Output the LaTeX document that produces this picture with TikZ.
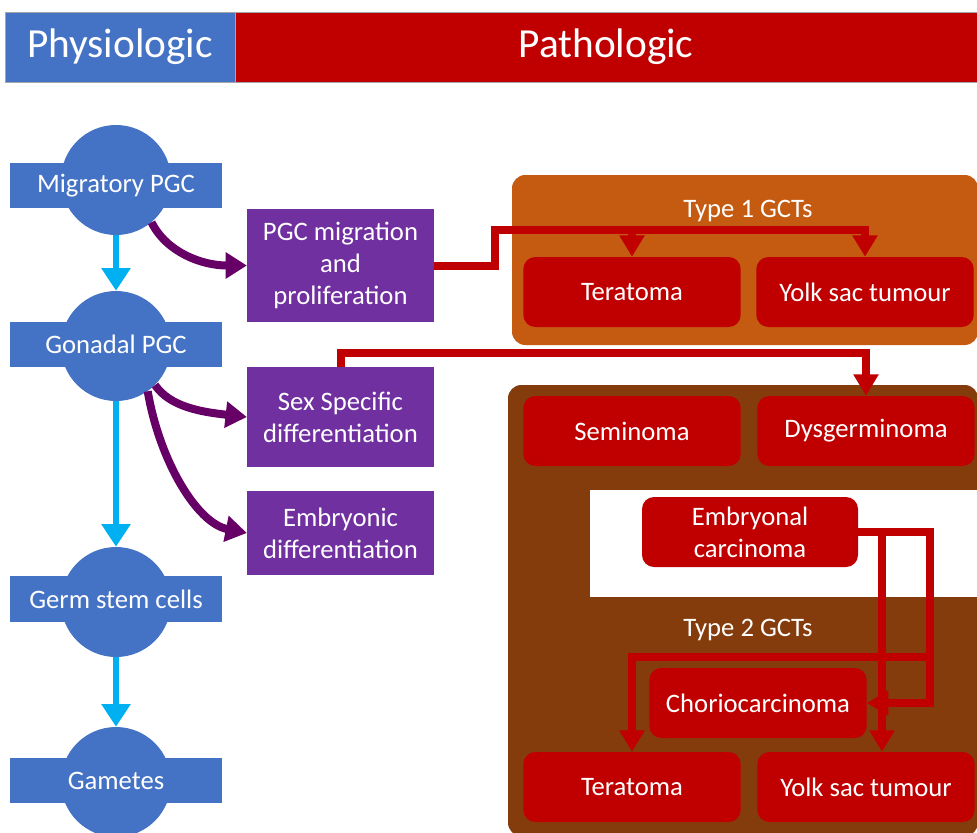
\documentclass[tikz,border=0pt]{standalone}
\usepackage{fontspec}
\setmainfont{Carlito}
\usetikzlibrary{arrows.meta,positioning}

\definecolor{physblue}{HTML}{4472C4}
\definecolor{pathred}{HTML}{C00000}
\definecolor{stepcyan}{HTML}{00B0F0}
\definecolor{eventpurple}{HTML}{7030A0}
\definecolor{arrowpurple}{HTML}{660066}
\definecolor{typeorange}{HTML}{C55A11}
\definecolor{typebrown}{HTML}{843C0C}

\begin{document}
\begin{tikzpicture}[x=0.75pt,y=-0.75pt,font=\fontsize{20}{24}\selectfont]
            \tikzstyle{cell disc}=[circle,fill=physblue,minimum size=82.5pt,inner sep=0pt]
            \tikzstyle{cell bar}=[rectangle,fill=physblue,text=white,minimum width=159pt,minimum height=34pt,inner sep=0pt]
            \tikzstyle{event box}=[rectangle,fill=eventpurple,text=white,minimum width=140pt,align=center,inner sep=0pt]
            \tikzstyle{gct box}=[rectangle,rounded corners=9pt,fill=pathred,text=white,minimum width=163pt,minimum height=52.5pt,align=center,inner sep=0pt]
            \tikzstyle{head box}=[rectangle,draw=black!35,line width=0.5pt,text=white,minimum height=52.5pt,inner sep=0pt,font=\fontsize{31}{36}\selectfont]
            \tikzstyle{blue arrow}=[line width=5pt,draw=stepcyan,-{Triangle[width=21pt,length=17pt]}]
            \tikzstyle{purple arrow}=[line width=6pt,draw=arrowpurple,-{Triangle[width=19pt,length=16pt]}]
            \tikzstyle{red link}=[line width=6pt,draw=pathred,-{Triangle[width=18pt,length=16pt]}]

            \useasboundingbox (0,0) rectangle (977,832);
            \clip (0,0) rectangle (977,832);

            % header
            \node[head box,fill=physblue,minimum width=172.5pt] (physio) at (120,47) {Physiologic};
            \node[head box,fill=pathred,minimum width=556.5pt] (patho) at (606,47) {Pathologic};

            % physiologic column
            \node[cell disc] (mig) at (116,180) {};
            \node[cell bar] (migL) at (116,185.5) {Migratory PGC};
            \node[cell disc] (gon) at (116,346) {};
            \node[cell bar] (gonL) at (116,344.5) {Gonadal PGC};
            \node[cell disc] (germ) at (116,602) {};
            \node[cell bar] (germL) at (116,599) {Germ stem cells};
            \node[cell disc] (gam) at (116,782) {};
            \node[cell bar] (gamL) at (116,780.5) {Gametes};

            \draw[blue arrow] (mig.south) -- (gon.north);
            \draw[blue arrow] (gon.south) -- (germ.north);
            \draw[blue arrow] (germ.south) -- (gam.north);

            % events
            \node[event box,minimum height=84.75pt] (pgcmig) at (340.5,265.5) {PGC migration\\and\\proliferation};
            \node[event box,minimum height=75pt] (sexdiff) at (340.5,417) {Sex Specific\\differentiation};
            \node[event box,minimum height=63pt] (embdiff) at (340.5,533) {Embryonic\\differentiation};

            \draw[purple arrow] (mig.-50) .. controls +(15,30) and +(-45,0) .. (pgcmig.west);
            \draw[purple arrow] (gon.-45) .. controls +(15,22) and +(-45,-5) .. (sexdiff.west);
            \draw[purple arrow] (gon.-55) .. controls +(12,70) and +(-50,-10) .. (embdiff.west);

            % type 1 GCTs
            \fill[typeorange,rounded corners=10pt] (512,175) rectangle (978,345);
            \node[text=white] (t1label) at (748,211) {Type 1 GCTs};
            \node[gct box] (ter1) at (632,292) {Teratoma};
            \node[gct box] (yolk1) at (865,292) {Yolk sac tumour};

            % type 2 GCTs
            \fill[typebrown,rounded corners=10pt] (508,385) rectangle (978,836);
            \fill[white] (590,490) rectangle (980,597);
            \node[text=white] (t2label) at (748,630) {Type 2 GCTs};
            \node[gct box] (sem) at (632,431) {Seminoma};
            \node[gct box] (dys) at (866,431) {Dysgerminoma};
            \node[gct box,minimum width=162pt] (ec) at (750,532) {Embryonal\\carcinoma};
            \node[gct box] (chorio) at (758,703) {Choriocarcinoma};
            \node[gct box] (ter2) at (632,787) {Teratoma};
            \node[gct box] (yolk2) at (866,787) {Yolk sac tumour};

            % pathologic links
            \coordinate (migbend) at (495,230);
            \draw[red link] (pgcmig.east) -| (migbend) -| (ter1.north);
            \draw[red link] (pgcmig.east) -| (migbend) -| (yolk1.north);
            \draw[red link] (sexdiff.north) -- ++(0,-14) -| (dys.north);
            \coordinate (ecdrop) at (930,657);
            \draw[red link] (ec.east) -| ([xshift=12pt]yolk2.north);
            \draw[red link] (ec.east) -| (ecdrop |- chorio.east) -- (chorio.east);
            \draw[red link] (ec.east) -| (ecdrop) -| (ter2.north);
        \end{tikzpicture}
\end{document}
